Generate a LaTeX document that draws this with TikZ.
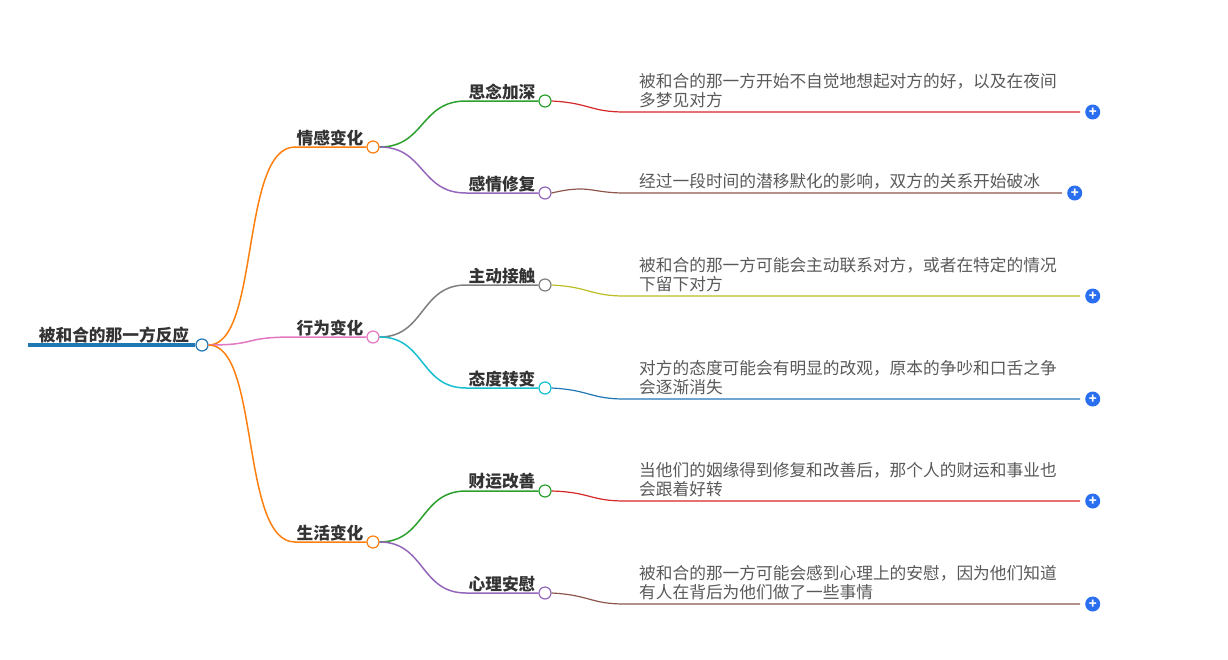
\documentclass[tikz,border=0pt]{standalone}
\usepackage{fontspec}
\setmainfont{Noto Sans CJK SC}
\usetikzlibrary{positioning}
\definecolor{cblue}{HTML}{1F77B4}
\definecolor{corange}{HTML}{FF7F0E}
\definecolor{cgreen}{HTML}{2CA02C}
\definecolor{cred}{HTML}{D62728}
\definecolor{cpurple}{HTML}{9467BD}
\definecolor{cbrown}{HTML}{8C564B}
\definecolor{cpink}{HTML}{E377C2}
\definecolor{cgray}{HTML}{7F7F7F}
\definecolor{colive}{HTML}{BCBD22}
\definecolor{ccyan}{HTML}{17BECF}
\definecolor{cplus}{HTML}{2A6FF0}
\tikzset{
  knob/.style={circle, draw=#1, fill=white, line width=1.2pt, minimum size=12pt, inner sep=0pt},
  branch/.style={line width=1.5pt, draw=#1},
  topic/.style={font=\fontsize{16.7}{18}\selectfont\bfseries, text=black!80, inner sep=1pt},
  leaf/.style={font=\fontsize{16.7}{18.5}\selectfont, text=black!65, align=left, anchor=south west, inner sep=1pt},
  plus/.style={circle, fill=cplus, minimum size=15pt, inner sep=0pt, text=white,
    font=\bfseries\fontsize{13}{13}\selectfont},
}
\begin{document}
\begin{tikzpicture}[x=1pt, y=-1pt]
\useasboundingbox (0,0) rectangle (1228,659);

% root
\coordinate (rootL) at (28,345);
\node[knob=cblue] (root) at (202,345) {};
\node[topic, anchor=south] (rootT) at (114,344) {被和合的那一方反应};
\draw[cblue, line width=3.5pt] (rootL) -- (root.west);

% first level
\foreach \name/\txt/\y/\col in {emo/情感变化/147/corange, act/行为变化/337/cpink, life/生活变化/542/corange}{
  \node[knob=\col] (\name) at (373,\y) {};
  \coordinate (\name L) at (295,\y);
  \node[topic, anchor=south] (\name T) at (330,\y) {\txt};
  \draw[branch=\col] (root.east) .. controls (260,345) and (240,\y) .. (\name L) -- (\name.west);
}

% second level
\foreach \name/\up/\upy/\txt/\y/\col in {miss/emo/147/思念加深/101/cgreen, heal/emo/147/感情修复/193/cpurple,
    touch/act/337/主动接触/285/cgray, mood/act/337/态度转变/388/ccyan,
    luck/life/542/财运改善/491/cgreen, mind/life/542/心理安慰/593/cpurple}{
  \node[knob=\col] (\name) at (545,\y) {};
  \coordinate (\name L) at (466,\y);
  \node[topic, anchor=south] (\name T) at (502,\y) {\txt};
  \draw[branch=\col] (\up.east) .. controls (425,\upy) and (420,\y) .. (\name L) -- (\name.west);
}

% leaves
\foreach \name/\y/\xe/\col/\txt in {
    miss/112/1080/cred/{被和合的那一方开始不自觉地想起对方的好，以及在夜间\\多梦见对方},
    heal/193/1062/cbrown/{经过一段时间的潜移默化的影响，双方的关系开始破冰},
    touch/296/1080/colive/{被和合的那一方可能会主动联系对方，或者在特定的情况\\下留下对方},
    mood/399/1080/cblue/{对方的态度可能会有明显的改观，原本的争吵和口舌之争\\会逐渐消失},
    luck/501/1080/cred/{当他们的姻缘得到修复和改善后，那个人的财运和事业也\\会跟着好转},
    mind/604/1080/cbrown/{被和合的那一方可能会感到心理上的安慰，因为他们知道\\有人在背后为他们做了一些事情}}{
  \coordinate (\name A) at (625,\y);
  \coordinate (\name B) at (\xe,\y);
  \node[leaf] (\name X) at (638,\y-3) {\txt};
  \node[plus, right=5pt of \name B] (\name P) {+};
  \draw[line width=1.2pt, draw=\col] (\name.east) .. controls (590,\y-9) and (590,\y) .. (\name A) -- (\name B);
}
\end{tikzpicture}
\end{document}
